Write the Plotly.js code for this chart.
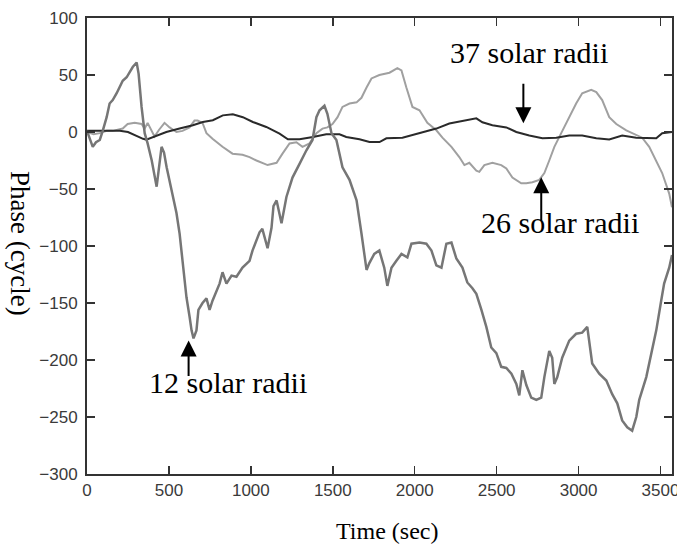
<!DOCTYPE html>
<html>
<head>
<meta charset="utf-8">
<script src="https://cdn.plot.ly/plotly-3.0.1.min.js"></script>
<style>html,body{margin:0;padding:0;background:#fff;}#chart{width:677px;height:544px;}</style>
</head>
<body>
<div id="chart"></div>
<script>
// 12 solar radii (medium gray)
const t12 = [0,15,35,55,78,96,120,138,157,181,199,218,242,260,279,303,315,333,352,370,395,425,440,455,470,486,522,546,565,577,595,607,626,638,650,668,680,705,729,748,766,809,827,851,882,912,949,992,1010,1053,1070,1084,1102,1126,1138,1157,1175,1187,1217,1254,1297,1339,1376,1400,1419,1449,1467,1492,1522,1559,1602,1645,1675,1690,1706,1723,1753,1784,1814,1833,1858,1888,1919,1955,1980,2029,2071,2102,2132,2163,2193,2224,2254,2291,2321,2352,2376,2407,2437,2467,2498,2528,2559,2590,2620,2638,2657,2681,2711,2742,2772,2791,2821,2839,2852,2870,2900,2943,2985,3022,3053,3083,3126,3169,3205,3236,3266,3297,3327,3352,3370,3413,3443,3474,3504,3522,3553,3570];
const p12 = [1,-5,-13,-9,-7,1,13,25,28,34,39,45,48,52,57,61,51,22,-1,-10,-25,-48,-30,-13,-18,-31,-55,-71,-89,-106,-127,-145,-162,-174,-181,-174,-156,-150,-146,-156,-148,-133,-123,-133,-126,-127,-119,-113,-104,-88,-85,-92,-102,-84,-65,-60,-71,-80,-57,-40,-28,-16,-7,13,19,23,16,-1,-7,-31,-42,-60,-89,-107,-121,-115,-107,-104,-119,-135,-119,-113,-107,-110,-98,-97,-98,-104,-117,-119,-98,-97,-111,-119,-132,-137,-142,-156,-171,-189,-194,-206,-207,-212,-221,-231,-209,-222,-233,-235,-233,-215,-192,-198,-221,-215,-198,-183,-177,-176,-171,-203,-212,-218,-230,-238,-253,-259,-262,-250,-235,-215,-194,-174,-148,-133,-119,-108];

// 26 solar radii (light gray)
const t26 = [0,40,78,120,157,218,248,291,333,352,370,395,412,440,473,504,546,583,626,656,675,705,729,766,827,888,949,992,1034,1102,1157,1193,1236,1278,1315,1358,1400,1437,1467,1498,1529,1559,1602,1645,1675,1706,1736,1784,1846,1894,1919,1949,1986,2029,2077,2132,2169,2224,2272,2303,2333,2376,2394,2425,2474,2528,2559,2596,2650,2681,2718,2760,2791,2821,2852,2894,2943,2985,3022,3077,3108,3144,3187,3230,3291,3352,3388,3431,3474,3510,3553,3570];
const p26 = [0,-2,-1,1,1,3,7,8,7,3,8,1,-4,2,8,4,0,1,4,10,10,8,-1,-6,-13,-19,-20,-22,-25,-29,-27,-19,-10,-9,-13,-10,-1,3,4,7,13,22,25,26,30,39,47,50,52,56,54,39,22,19,8,1.5,-5,-13,-22,-29,-27,-34,-35,-29,-27,-29,-32,-40,-45,-45,-44,-42,-36,-25,-13,-1,13,25,34,37,35,28,13,7,1.5,-3,-5,-13,-25,-36,-54,-66];

// 37 solar radii (black)
const t37 = [0,100,200,250,291,342,362,423,484,565,646,707,768,829,890,951,1012,1094,1175,1226,1297,1379,1460,1541,1582,1663,1724,1785,1827,1925,2029,2132,2211,2291,2376,2413,2474,2559,2620,2699,2779,2864,2943,3022,3108,3187,3266,3352,3413,3474,3510,3570];
const p37 = [1,1,1,0,-3,-6,-6.7,-3,0,3,5.9,8.8,10.3,14.6,15.5,13,8.8,4.4,-1.5,-6.4,-6.4,-4.4,-2,-2,-4.4,-6.4,-8.8,-8.8,-5.5,-5,-1,3,7.5,10,12,8.5,6,4,0,-3,-5.5,-5,-3,-3,-5.5,-6.5,-3,-5,-5,-5.5,-1,0];

const xTicks = [0,500,1000,1500,2000,2500,3000,3500];
const yTicks = [-300,-250,-200,-150,-100,-50,0,50,100];

const traces = [
  {x:t26, y:p26, mode:'lines', line:{color:'#a0a0a0', width:2}, hoverinfo:'skip'},
  {x:t37, y:p37, mode:'lines', line:{color:'#2a2a2a', width:2}, hoverinfo:'skip'},
  {x:t12, y:p12, mode:'lines', line:{color:'#767676', width:2.5}, hoverinfo:'skip'}
];

const serif = 'Liberation Serif, Times New Roman, serif';
const lab = {family: serif, size: 30, color: '#000'};

const axisCommon = {
  showgrid:false, zeroline:false, showline:true, linewidth:2, linecolor:'#333',
  mirror:'ticks', ticks:'inside', ticklen:8, tickwidth:1.5, tickcolor:'#333',
  tickfont:{family:'Liberation Sans, Arial, sans-serif', size:17, color:'#3a3a3a'}
};

const layout = {
  width:677, height:544,
  margin:{l:87, r:5, t:18, b:70},
  paper_bgcolor:'#fff', plot_bgcolor:'#fff',
  showlegend:false,
  xaxis: Object.assign({}, axisCommon, {range:[0,3570], tickvals:xTicks, ticktext:xTicks.map(String), ticklabeloverflow:'allow'}),
  yaxis: Object.assign({}, axisCommon, {range:[-300,100], tickvals:yTicks, ticktext:yTicks.map(v=>v<0?'\u2212'+Math.abs(v):String(v)), ticklabelstandoff:4}),
  annotations:[
    {xref:'paper', yref:'paper', x:0.513, y:-0.124, text:'Time (sec)', showarrow:false, xanchor:'center', yanchor:'middle', font:{family:serif, size:24, color:'#000'}},
    {xref:'paper', yref:'paper', x:-0.1145, y:0.5066, text:'Phase (cycle)', textangle:90, showarrow:false, xanchor:'center', yanchor:'middle', font:{family:serif, size:27, color:'#000'}},
    {x:2699, y:69.5, text:'37 solar radii', showarrow:false, xanchor:'center', yanchor:'middle', font:lab},
    {x:2889, y:-79.2, text:'26 solar radii', showarrow:false, xanchor:'center', yanchor:'middle', font:lab},
    {x:858, y:-219.6, text:'12 solar radii', showarrow:false, xanchor:'center', yanchor:'middle', font:lab},
    {x:2663, y:7.6, ax:0, ay:-41, text:'', showarrow:true, arrowhead:2, arrowsize:1.6, arrowwidth:2, arrowcolor:'#000'},
    {x:2772, y:-39.7, ax:0, ay:45, text:'', showarrow:true, arrowhead:2, arrowsize:1.6, arrowwidth:2, arrowcolor:'#000'},
    {x:620, y:-183, ax:0, ay:37, text:'', showarrow:true, arrowhead:2, arrowsize:1.6, arrowwidth:2, arrowcolor:'#000'}
  ]
};

Plotly.newPlot('chart', traces, layout, {staticPlot:true, displayModeBar:false});
</script>
</body>
</html>
